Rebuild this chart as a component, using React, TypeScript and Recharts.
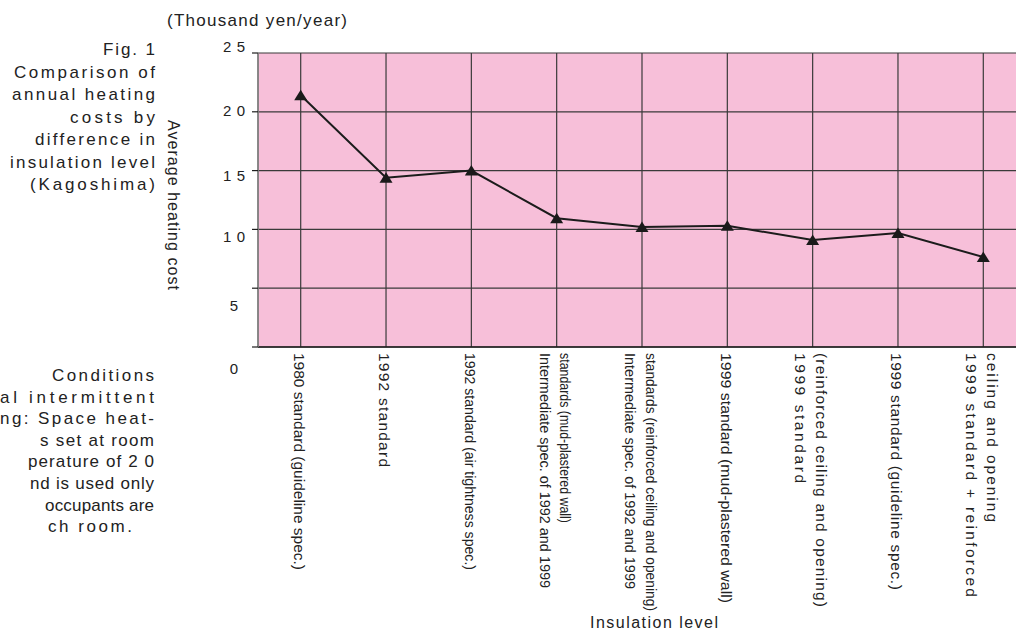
import React from "react";
import { LineChart, Line, XAxis, YAxis, CartesianGrid } from "recharts";

// insulation levels, each label split into the lines printed under the axis
const categories = [
  "1980 standard (guideline spec.)",
  "1992 standard",
  "1992 standard (air tightness spec.)",
  "Intermediate spec. of 1992 and 1999\nstandards (mud-plastered wall)",
  "Intermediate spec. of 1992 and 1999\nstandards (reinforced ceiling and opening)",
  "1999 standard (mud-plastered wall)",
  "1999 standard\n(reinforced ceiling and opening)",
  "1999 standard (guideline spec.)",
  "1999 standard + reinforced\nceiling and opening",
];

// average heating cost, thousand yen / year
const costs = [21.4, 14.4, 15.0, 10.95, 10.2, 10.3, 9.1, 9.7, 7.65];

const yTicks = [0, 5, 10, 15, 20, 25];

const unitLabel = "(Thousand yen/year)";
const yAxisTitle = "Average heating cost";
const xAxisTitle = "Insulation level";

const titleLines = [
  "Fig. 1",
  "Comparison of",
  "annual heating",
  "costs by",
  "difference in",
  "insulation level",
  "(Kagoshima)",
];

const conditionLines = [
  "Conditions",
  "al intermittent",
  "ng: Space heat-",
  "s set at room",
  "perature of 2 0",
  "nd is used only",
  "occupants are",
  "ch room.",
];

// ---- styling ----
const FONT = "'Liberation Sans', Arial, Helvetica, sans-serif";
const INK = "#222";
const PINK = "#f7bfd9";
const GRID = "#3a3a3a";
const HALF_BAND = 42.7; // categories sit in the middle of equal-width columns

// printed length of each axis label line (scan is justified / condensed)
const labelLengths = [[217], [114], [217], [235, 170], [236, 258], [250], [130, 254], [237], [244, 169]];
const labelCondensed = [false, false, true, true, true, true, false, false, false];
// the scanned tick numbers drift away from their grid lines
const yLabelShift: Record<number, number> = { 25: -7, 20: -1.5, 15: 5, 10: 7, 5: 17, 0: 21 };
const titleLengths = [52, 141, 143, 85, 120, 145, 125];
// [left edge, right edge] of each visible line of the conditions note
const conditionSpans = [
  [52, 154],
  [0, 154],
  [0, 154],
  [40, 154],
  [28, 154],
  [30, 154],
  [45, 154],
  [48, 132],
];

const data = categories.map((name, i) => ({ name, cost: costs[i] }));

function YTick(props: any) {
  const { x, y, payload } = props;
  const v = payload.value as number;
  const txt = String(v);
  return (
    <text
      x={x - 18}
      y={y + (yLabelShift[v] ?? 0)}
      textAnchor="middle"
      dominantBaseline="central"
      fontFamily={FONT}
      fontSize={15}
      fill={INK}
      textLength={txt.length > 1 ? 22 : undefined}
      lengthAdjust="spacing"
    >
      {txt}
    </text>
  );
}

function XTick(props: any) {
  const { x, y, payload, index } = props;
  const lines = String(payload.value).split("\n");
  const lens = labelLengths[index] || [];
  const condensed = labelCondensed[index];
  return (
    <g>
      {lines.map((ln, i) => {
        const lx = x - 1.5 + (i - (lines.length - 1) / 2) * 20.5;
        return (
          <text
            key={i}
            transform={`translate(${lx},${y}) rotate(90)`}
            dominantBaseline="central"
            fontFamily={FONT}
            fontSize={condensed ? 14.5 : 15.5}
            fill={INK}
            textLength={lens[i]}
            lengthAdjust={condensed ? "spacingAndGlyphs" : "spacing"}
          >
            {ln}
          </text>
        );
      })}
    </g>
  );
}

function TriangleDot(props: any) {
  const { cx, cy } = props;
  if (cx == null || cy == null) return <g />;
  return (
    <polygon
      points={`${cx},${cy - 5.5} ${cx + 6.5},${cy + 5} ${cx - 6.5},${cy + 5}`}
      fill="#1a1a1a"
    />
  );
}

function Annotations() {
  const textProps = { fontFamily: FONT, fill: INK };
  return (
    <svg
      width={1016}
      height={639}
      style={{ position: "absolute", left: 0, top: 0, pointerEvents: "none" }}
    >
      <text x={167} y={26} fontSize={17} textLength={180} lengthAdjust="spacing" {...textProps}>
        {unitLabel}
      </text>
      {titleLines.map((t, i) => (
        <text
          key={t}
          x={155}
          y={55 + i * 22.5}
          fontSize={17}
          textAnchor="end"
          textLength={titleLengths[i]}
          lengthAdjust="spacing"
          {...textProps}
        >
          {t}
        </text>
      ))}
      <text
        transform="translate(168,120) rotate(90)"
        fontSize={16}
        textLength={170}
        lengthAdjust="spacing"
        {...textProps}
      >
        {yAxisTitle}
      </text>
      {conditionLines.map((t, i) => {
        const [x0, x1] = conditionSpans[i];
        return (
          <text
            key={t}
            x={x0}
            y={381 + i * 21.6}
            fontSize={17}
            textLength={x1 - x0}
            lengthAdjust="spacing"
            {...textProps}
          >
            {t}
          </text>
        );
      })}
      <text x={590} y={628} fontSize={16} textLength={128} lengthAdjust="spacing" {...textProps}>
        {xAxisTitle}
      </text>
    </svg>
  );
}

export default function App() {
  return (
    <div
      style={{
        position: "absolute",
        left: 0,
        top: 0,
        width: 1016,
        height: 639,
        overflow: "hidden",
        background: "#fff",
      }}
    >
      <LineChart
        width={1030}
        height={639}
        data={data}
        margin={{ top: 53, right: 4, bottom: 0, left: 0 }}
      >
        <CartesianGrid stroke={GRID} strokeWidth={1.2} fill={PINK} fillOpacity={1} />
        <XAxis
          dataKey="name"
          interval={0}
          height={292}
          padding={{ left: HALF_BAND, right: HALF_BAND }}
          tickLine={false}
          tickSize={0}
          tickMargin={6}
          axisLine={{ stroke: "#1e1e1e", strokeWidth: 1.4 }}
          tick={<XTick />}
        />
        <YAxis
          domain={[0, 25]}
          ticks={yTicks}
          width={258}
          tickSize={6}
          tickMargin={0}
          tickLine={{ stroke: "#1e1e1e", strokeWidth: 1.2 }}
          axisLine={{ stroke: "#8a8a8a", strokeWidth: 1.5 }}
          tick={<YTick />}
        />
        <Line
          dataKey="cost"
          type="linear"
          stroke="#1c1c1c"
          strokeWidth={2}
          isAnimationActive={false}
          dot={(p: any) => <TriangleDot key={p.index} {...p} />}
          activeDot={false}
        />
      </LineChart>
      <Annotations />
    </div>
  );
}
